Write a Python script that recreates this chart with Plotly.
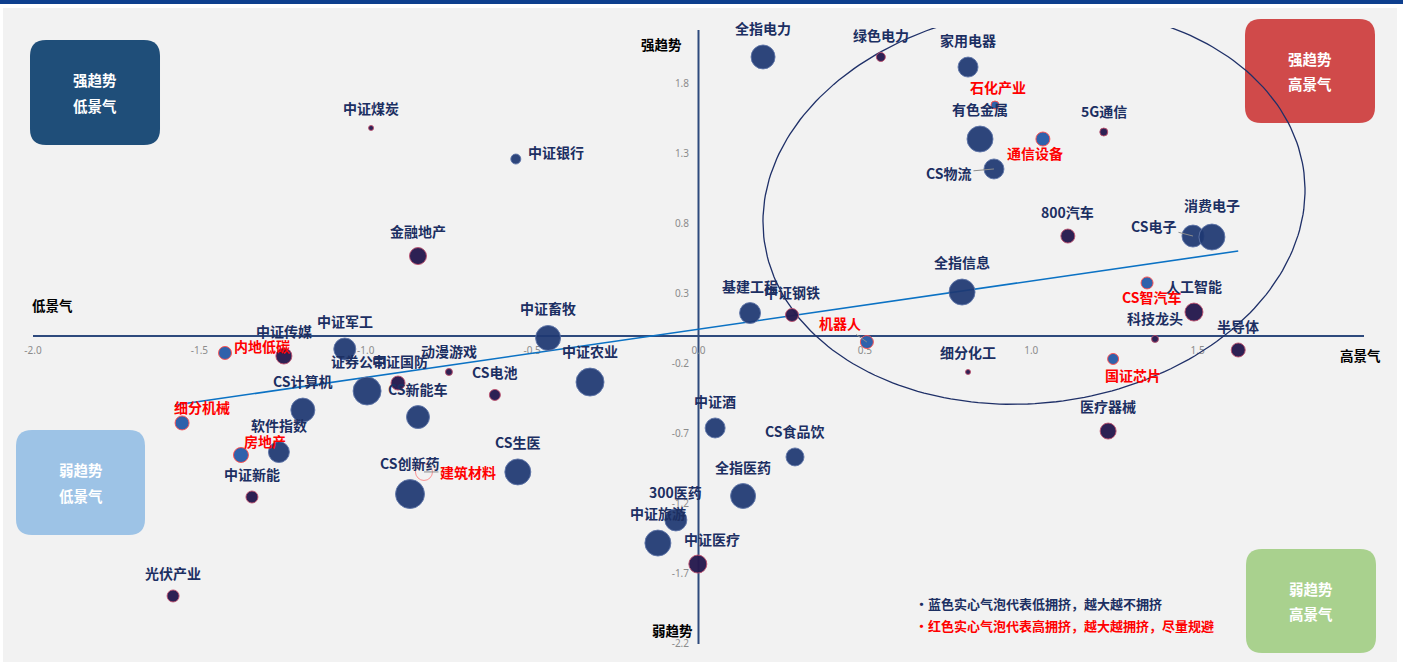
import numpy as np
import plotly.graph_objects as go

# ---------------- data ----------------
names = ["全指电力", "绿色电力", "家用电器", "石化产业", "有色金属", "通信设备", "5G通信", "CS物流",
         "中证煤炭", "中证银行", "金融地产", "800汽车", "CS电子", "消费电子", "全指信息", "基建工程",
         "中证钢铁", "机器人", "CS智汽车", "人工智能", "科技龙头", "半导体", "细分化工", "国证芯片",
         "医疗器械", "中证畜牧", "中证农业", "动漫游戏", "CS电池", "中证军工", "中证传媒", "内地低碳",
         "证券公司", "中证国防", "CS新能车", "CS计算机", "细分机械", "软件指数", "房地产", "中证新能",
         "CS创新药", "建筑材料", "CS生医", "光伏产业", "中证酒", "CS食品饮", "全指医药", "300医药",
         "中证旅游", "中证医疗"]
# 景气 (x)
prosperity = [0.194, 0.548, 0.810, 0.891, 0.846, 1.035, 1.218, 0.888,
              -0.984, -0.549, -0.843, 1.110, 1.486, 1.543, 0.792, 0.155,
              0.281, 0.506, 1.348, 1.489, 1.372, 1.622, 0.810, 1.246,
              1.231, -0.452, -0.326, -0.750, -0.612, -1.063, -1.246, -1.423,
              -0.996, -0.903, -0.843, -1.189, -1.552, -1.261, -1.375, -1.342,
              -0.867, -0.825, -0.543, -1.579, 0.050, 0.290, 0.134, -0.068,
              -0.122, -0.002]
# 趋势 (y)
trend = [1.993, 1.993, 1.921, 1.650, 1.407, 1.407, 1.457, 1.193,
         1.486, 1.264, 0.571, 0.714, 0.714, 0.707, 0.314, 0.164,
         0.150, -0.043, 0.379, 0.171, -0.021, -0.100, -0.257, -0.164,
         -0.679, -0.014, -0.329, -0.257, -0.421, -0.093, -0.143, -0.121,
         -0.393, -0.336, -0.579, -0.529, -0.621, -0.829, -0.850, -1.150,
         -1.129, -0.971, -0.971, -1.857, -0.657, -0.864, -1.143, -1.314,
         -1.479, -1.629]
# 拥挤度 (bubble size)
crowd = [12, 4.5, 10, 4, 13, 7, 4, 10,
         2.5, 5, 8.5, 7, 11, 13, 13, 10.5,
         6.5, 6.5, 6, 9, 3.5, 7, 2.5, 5.5,
         8, 12.5, 14, 3.5, 5.5, 11, 8, 6.5,
         14, 7, 11.5, 12, 7, 10.5, 7.5, 6,
         14.5, 8.5, 13, 6, 10, 9, 12.5, 11,
         13, 9]
# N = 低拥挤(蓝), P = 高拥挤(红), B = 重点标注, R = 空心
kind = ["N", "P", "N", "B", "N", "B", "P", "N",
        "P", "N", "P", "P", "N", "N", "N", "N",
        "P", "B", "B", "P", "P", "P", "P", "B",
        "P", "N", "N", "P", "P", "N", "P", "B",
        "N", "P", "N", "N", "B", "N", "B", "P",
        "N", "R", "N", "P", "N", "N", "N", "N",
        "N", "P"]

x_ticks = [-2.0, -1.5, -1.0, -0.5, 0.0, 0.5, 1.0, 1.5]
y_ticks = [1.8, 1.3, 0.8, 0.3, -0.2, -0.7, -1.2, -1.7, -2.2]

trend_line_x = [-1.573, 1.622]
trend_line_y = [-0.493, 0.607]

# ---------------- layout geometry ----------------
W, H = 1403, 662
ML, MR, MT, MB = 33, 39, 28, 18
PW, PH = W - ML - MR, H - MT - MB
XR = [-2.0, 2.0]
YR = [-2.2, 2.2]
CJK = "Noto Sans CJK SC"


def fx(px):
    return (px - ML) / PW


def fy(py):
    return (MT + PH - py) / PH


def px2x(px):
    return XR[0] + (px - ML) / PW * (XR[1] - XR[0])


def py2y(py):
    return YR[1] - (py - MT) / PH * (YR[1] - YR[0])


def rrect(x0, y0, x1, y1, r):
    pts = [("M", [(x0 + r, y0)]), ("L", [(x1 - r, y0)]), ("Q", [(x1, y0), (x1, y0 + r)]),
           ("L", [(x1, y1 - r)]), ("Q", [(x1, y1), (x1 - r, y1)]), ("L", [(x0 + r, y1)]),
           ("Q", [(x0, y1), (x0, y1 - r)]), ("L", [(x0, y0 + r)]), ("Q", [(x0, y0), (x0 + r, y0)])]
    s = ""
    for cmd, ps in pts:
        s += cmd + " ".join(f"{fx(a):.5f},{fy(b):.5f}" for a, b in ps) + " "
    return s + "Z"


fig = go.Figure()

# tick labels (drawn first so bubbles cover them)
fig.add_trace(go.Scatter(
    x=x_ticks, y=[py2y(351)] * len(x_ticks), mode="text", cliponaxis=False,
    text=[f"{v:.1f}" for v in x_ticks], textposition="middle center",
    textfont=dict(family="Noto Sans", size=10, color="#8c8c8c"),
    hoverinfo="skip", showlegend=False))
fig.add_trace(go.Scatter(
    x=[px2x(689)] * len(y_ticks), y=y_ticks, mode="text", cliponaxis=False,
    text=[f"{v:.1f}" for v in y_ticks], textposition="middle left",
    textfont=dict(family="Noto Sans", size=10, color="#8c8c8c"),
    hoverinfo="skip", showlegend=False))

# ellipse highlight
cx, cy, a, b, th = 1034, 206, 272, 197, np.deg2rad(7)
t = np.linspace(0, 2 * np.pi, 240)
ex = cx + a * np.cos(t) * np.cos(th) + b * np.sin(t) * np.sin(th)
ey = cy - a * np.cos(t) * np.sin(th) + b * np.sin(t) * np.cos(th)
fig.add_trace(go.Scatter(x=[px2x(v) for v in ex], y=[py2y(v) for v in ey], mode="lines",
                         cliponaxis=False,
                         line=dict(color="#1f3068", width=1.3), hoverinfo="skip", showlegend=False))

# trend line
fig.add_trace(go.Scatter(x=trend_line_x, y=trend_line_y, mode="lines",
                         line=dict(color="#0b72c4", width=1.6), hoverinfo="skip", showlegend=False))

styles = {
    "N": dict(color="rgba(30,56,114,0.93)", line=dict(color="rgba(95,118,168,0.9)", width=1)),
    "P": dict(color="rgba(38,26,78,0.97)", line=dict(color="rgba(190,80,110,0.9)", width=1)),
    "B": dict(color="rgba(40,92,168,0.97)", line=dict(color="rgba(255,80,80,0.95)", width=1)),
    "R": dict(color="rgba(0,0,0,0)", line=dict(color="rgba(255,90,90,0.8)", width=0.8)),
}
for k, st in styles.items():
    idx = [i for i, kk in enumerate(kind) if kk == k]
    fig.add_trace(go.Scatter(
        x=[prosperity[i] for i in idx], y=[trend[i] for i in idx], mode="markers",
        text=[names[i] for i in idx], cliponaxis=False,
        marker=dict(size=[crowd[i] for i in idx], sizemode="diameter", sizeref=0.5, opacity=1,
                    color=st["color"], line=st["line"]),
        hovertemplate="%{text}<br>景气 %{x}<br>趋势 %{y}<extra></extra>", showlegend=False))

# label placement (pixel offsets from bubble centre; y down) -- layout only
label_offset = {
    "石化产业": (3, -18, False), "通信设备": (-8, 14, False), "CS物流": (-45, 4, True),
    "中证银行": (40, -7, False), "CS电子": (-39, -10, True), "机器人": (-27, -19, True),
    "CS智汽车": (5, 14, False), "国证芯片": (20, 16, False), "内地低碳": (37, -7, False),
    "证券公司": (-8, -30, False), "中证国防": (2, -22, False), "细分机械": (20, -16, False),
    "房地产": (24, -14, False), "建筑材料": (44, 0, True), "中证医疗": (14, -25, False),
    "消费电子": (0, -32, False),
}

annotations = []
for i, n in enumerate(names):
    red = kind[i] in ("B", "R")
    col = "#ff0000" if red else "#1c2f62"
    dx, dy, leader = label_offset.get(n, (0, -(crowd[i] + 17), False))
    common = dict(x=prosperity[i], y=trend[i], xref="x", yref="y", text=f"<b>{n}</b>",
                  font=dict(family=CJK, size=14, color=col))
    if leader:
        annotations.append(dict(**common, showarrow=True, ax=dx, ay=dy, arrowhead=0,
                                arrowwidth=1, arrowcolor="#8c8c8c", standoff=0))
    else:
        annotations.append(dict(**common, showarrow=False, xshift=dx, yshift=-dy,
                                xanchor="center", yanchor="middle"))


def paper_text(txt, px, py, size, color, xanchor="center"):
    annotations.append(dict(x=fx(px), y=fy(py), xref="paper", yref="paper", showarrow=False,
                            xanchor=xanchor, yanchor="middle", text=f"<b>{txt}</b>",
                            font=dict(family=CJK, size=size, color=color)))


# axis captions
for txt, px, py in [("强趋势", 661, 44), ("弱趋势", 672, 630), ("低景气", 52, 305), ("高景气", 1360, 355)]:
    paper_text(txt, px, py, 13.5, "#000000")

# background + axes + quadrant boxes
shapes = [
    dict(type="rect", xref="paper", yref="paper", x0=fx(0), x1=fx(W), y0=fy(0), y1=fy(H),
         fillcolor="#ffffff", line=dict(width=0), layer="below"),
    dict(type="rect", xref="paper", yref="paper", x0=fx(3), x1=fx(1397), y0=fy(8), y1=fy(H),
         fillcolor="#f2f2f2", line=dict(width=0), layer="below"),
    dict(type="rect", xref="paper", yref="paper", x0=fx(0), x1=fx(W), y0=fy(0), y1=fy(4),
         fillcolor="#0e3f8e", line=dict(width=0), layer="below"),
    dict(type="line", xref="x", yref="y", x0=-2.0, x1=2.0, y0=0, y1=0,
         line=dict(color="#2e4a7d", width=2), layer="below"),
    dict(type="line", xref="x", yref="y", x0=0, x1=0, y0=py2y(645), y1=py2y(30),
         line=dict(color="#2e4a7d", width=2), layer="below"),
]
boxes = [
    (30, 40, 160, 145, "#1f4e79", ["强趋势", "低景气"]),
    (1245, 19, 1375, 123, "#d04a4a", ["强趋势", "高景气"]),
    (16, 430, 145, 535, "#9dc3e6", ["弱趋势", "低景气"]),
    (1246, 549, 1376, 653, "#a9d18e", ["弱趋势", "高景气"]),
]
for x0, y0, x1, y1, c, lines in boxes:
    shapes.append(dict(type="path", xref="paper", yref="paper", path=rrect(x0, y0, x1, y1, 16),
                       fillcolor=c, line=dict(width=0), layer="below"))
    mx, my = (x0 + x1) / 2, (y0 + y1) / 2
    for j, s in enumerate(lines):
        paper_text(s, mx, my - 12.5 + 25 * j, 14.5, "#ffffff")

# notes
paper_text("•蓝色实心气泡代表低拥挤，越大越不拥挤", 913, 603, 13, "#1c2f62", xanchor="left")
paper_text("•红色实心气泡代表高拥挤，越大越拥挤，尽量规避", 913, 625, 13, "#ff0000", xanchor="left")

fig.update_layout(
    width=W, height=H, margin=dict(l=ML, r=MR, t=MT, b=MB, autoexpand=False),
    paper_bgcolor="#ffffff", plot_bgcolor="rgba(0,0,0,0)",
    xaxis=dict(range=XR, visible=False, fixedrange=True),
    yaxis=dict(range=YR, visible=False, fixedrange=True),
    shapes=shapes, annotations=annotations, showlegend=False,
)
fig.write_html("out.html")
